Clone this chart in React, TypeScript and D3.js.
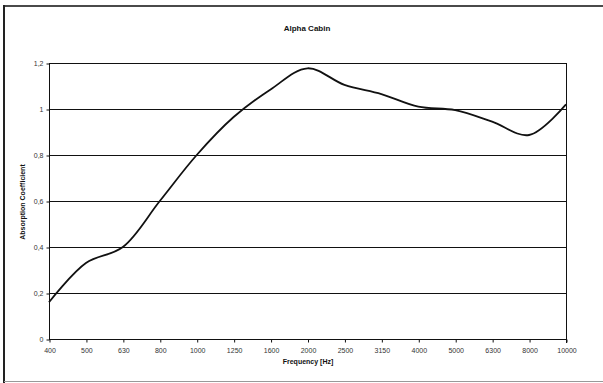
import React, { useEffect, useRef } from 'react';
import * as d3 from 'd3';

// Alpha Cabin absorption coefficient per third-octave band
const frequencies = ['400', '500', '630', '800', '1000', '1250', '1600', '2000', '2500', '3150', '4000', '5000', '6300', '8000', '10000'];
const absorption = [0.16, 0.33, 0.40, 0.60, 0.80, 0.965, 1.085, 1.177, 1.105, 1.065, 1.01, 0.995, 0.945, 0.887, 1.02];
const yTicks = [0, 0.2, 0.4, 0.6, 0.8, 1, 1.2];

const W = 603;
const H = 383;
const FONT = '"Liberation Sans", Arial, sans-serif';

function AlphaChart() {
  const ref = useRef<SVGSVGElement>(null);

  useEffect(() => {
    const margin = { top: 63, right: 37, bottom: 44, left: 49 };
    const width = W - margin.left - margin.right;
    const height = H - margin.top - margin.bottom;

    const svg = d3.select(ref.current);
    svg.selectAll('*').remove();

    // outer frame
    svg.append('line').attr('x1', 4).attr('x2', W).attr('y1', 6).attr('y2', 6)
      .attr('stroke', '#4a4a4a').attr('stroke-width', 2);
    svg.append('line').attr('x1', 4).attr('x2', 4).attr('y1', 5).attr('y2', H)
      .attr('stroke', '#222').attr('stroke-width', 2);
    svg.append('line').attr('x1', 4).attr('x2', W).attr('y1', 381.5).attr('y2', 381.5)
      .attr('stroke', '#999').attr('stroke-width', 1);

    svg.append('text')
      .attr('x', 307).attr('y', 31)
      .attr('text-anchor', 'middle')
      .attr('font-family', FONT).attr('font-size', 8).attr('font-weight', 'bold')
      .attr('fill', '#111')
      .text('Alpha Cabin');

    const g = svg.append('g').attr('transform', `translate(${margin.left},${margin.top})`);

    const x = d3.scalePoint<string>().domain(frequencies).range([0, width]);
    const y = d3.scaleLinear().domain([0, 1.2]).range([height, 0]);

    // gridlines
    g.selectAll('.grid')
      .data(yTicks)
      .join('line')
      .attr('class', 'grid')
      .attr('x1', 0).attr('x2', width)
      .attr('y1', d => Math.round(y(d)) + 0.5).attr('y2', d => Math.round(y(d)) + 0.5)
      .attr('stroke', '#111').attr('stroke-width', 1);

    g.append('line')
      .attr('x1', width + 0.5).attr('x2', width + 0.5).attr('y1', 0).attr('y2', height + 4)
      .attr('stroke', '#111');

    const fmt = (d: number) => d3.format('.1~f')(d).replace('.', ',');

    const yAxis = g.append('g')
      .attr('transform', 'translate(0.5,0.5)')
      .call(d3.axisLeft(y).tickValues(yTicks).tickSize(3).tickPadding(3).tickFormat(d => fmt(d as number)));
    yAxis.select('.domain').attr('stroke', '#111').attr('d', `M0,0V${height}`);

    const xAxis = g.append('g')
      .attr('transform', `translate(0.5,${height + 0.5})`)
      .call(d3.axisBottom(x).tickSize(3).tickPadding(6));
    xAxis.select('.domain').attr('stroke', '#111').attr('d', `M0,0H${width}`);

    g.selectAll('.tick text')
      .attr('font-family', FONT).attr('font-size', 7).attr('fill', '#333');
    g.selectAll('.tick line').attr('stroke', '#111');

    const line = d3.line<number>()
      .x((_, i) => x(frequencies[i]) as number)
      .y(d => y(d))
      .curve(d3.curveCatmullRom.alpha(0.5));

    g.append('path')
      .datum(absorption)
      .attr('fill', 'none')
      .attr('stroke', '#111')
      .attr('stroke-width', 1.8)
      .attr('d', line);

    svg.append('text')
      .attr('x', 308).attr('y', 364)
      .attr('text-anchor', 'middle')
      .attr('font-family', FONT).attr('font-size', 7).attr('font-weight', 'bold')
      .attr('fill', '#111')
      .text('Frequency [Hz]');

    svg.append('text')
      .attr('transform', 'translate(25,202) rotate(-90)')
      .attr('text-anchor', 'middle')
      .attr('font-family', FONT).attr('font-size', 7).attr('font-weight', 'bold')
      .attr('fill', '#111')
      .text('Absorption Coefficient');
  }, []);

  return <svg ref={ref} width={W} height={H} style={{ position: 'absolute', left: 0, top: 0, background: '#fff' }} />;
}

export default function App() {
  return <AlphaChart />;
}
